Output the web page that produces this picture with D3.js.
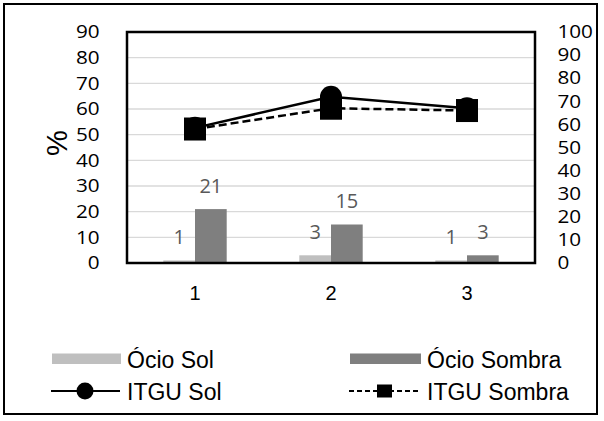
<!DOCTYPE html>
<html>
<head>
<meta charset="utf-8">
<script src="https://cdn.jsdelivr.net/npm/d3@7"></script>
<style>
  html, body { margin: 0; padding: 0; background: #fff; }
  svg { display: block; }
</style>
</head>
<body>
<svg id="chart" width="604" height="421"></svg>
<script>
// Categories and series
const categories = ["1", "2", "3"];
const ocioSol = [1, 3, 1];
const ocioSombra = [21, 15, 3];
const itguSol = [58.5, 72, 67];
const itguSombra = [58, 67, 66];
const leftTicks = [0, 10, 20, 30, 40, 50, 60, 70, 80, 90];
const rightTicks = [0, 10, 20, 30, 40, 50, 60, 70, 80, 90, 100];

const svg = d3.select("#chart");
const plot = { left: 127, right: 535, top: 32, bottom: 263 };

const numFont = "'Open Sans', Lato, sans-serif";
const arial = "'Liberation Sans', Arial, sans-serif";

// outer frame
svg.append("rect")
  .attr("x", 4).attr("y", 4).attr("width", 593).attr("height", 410)
  .attr("fill", "#fff").attr("stroke", "#000").attr("stroke-width", 2);

const x = d3.scaleBand().domain(categories).range([plot.left, plot.right]).padding(0);
const barW = 31.7;
const x1 = d3.scaleBand().domain(["sol", "sombra"])
  .range([x.bandwidth() / 2 - barW, x.bandwidth() / 2 + barW]).padding(0);
const yL = d3.scaleLinear().domain([0, 90]).range([plot.bottom, plot.top]);
const yR = d3.scaleLinear().domain([0, 100]).range([plot.bottom, plot.top]);

// gridlines
svg.append("g")
  .selectAll("line")
  .data(leftTicks.filter(d => d > 0 && d < 90))
  .join("line")
  .attr("x1", plot.left).attr("x2", plot.right)
  .attr("y1", d => yL(d)).attr("y2", d => yL(d))
  .attr("stroke", "#d9d9d9").attr("stroke-width", 1.3);

// left axis labels
const axL = svg.append("g").attr("transform", `translate(${plot.left},0)`)
  .call(d3.axisLeft(yL).tickValues(leftTicks).tickSize(0).tickPadding(21));
axL.select(".domain").remove();
axL.selectAll("text")
  .attr("font-family", numFont).attr("font-size", 18).attr("fill", "#000")
  .attr("transform", function () {
    const tx = +this.getAttribute("x") || 0;
    return `translate(${tx * 0.15},0) scale(1.15,1)`;
  });

// right axis labels
const axR = svg.append("g").attr("transform", `translate(${plot.right},0)`)
  .call(d3.axisRight(yR).tickValues(rightTicks).tickSize(0).tickPadding(22));
axR.select(".domain").remove();
axR.selectAll("text")
  .attr("font-family", numFont).attr("font-size", 18).attr("fill", "#000")
  .attr("transform", function () {
    const tx = +this.getAttribute("x") || 0;
    return `translate(${tx * -0.15 / 1.15},0) scale(1.15,1)`;
  });

// bottom category labels
const axB = svg.append("g").attr("transform", `translate(0,${plot.bottom})`)
  .call(d3.axisBottom(x).tickSize(0).tickPadding(23));
axB.select(".domain").remove();
axB.selectAll("text").attr("font-family", arial).attr("font-size", 20).attr("fill", "#000");

// y title
svg.append("text")
  .attr("transform", "translate(56.5,143) rotate(-90)")
  .attr("text-anchor", "middle").attr("dominant-baseline", "central")
  .attr("font-family", arial).attr("font-size", 29).text("%");

// bars
const barData = categories.map((c, i) => [
  { cat: c, key: "sol", v: ocioSol[i], color: "#bfbfbf" },
  { cat: c, key: "sombra", v: ocioSombra[i], color: "#7f7f7f" }
]).flat();

svg.append("g").selectAll("rect")
  .data(barData).join("rect")
  .attr("x", d => x(d.cat) + x1(d.key))
  .attr("width", x1.bandwidth())
  .attr("y", d => yL(d.v))
  .attr("height", d => yL(0) - yL(d.v))
  .attr("fill", d => d.color);

svg.append("g").selectAll("text")
  .data(barData).join("text")
  .attr("x", d => x(d.cat) + x1(d.key) + x1.bandwidth() / 2)
  .attr("y", d => yL(d.v) - 24)
  .attr("text-anchor", "middle").attr("dominant-baseline", "central")
  .attr("font-family", numFont).attr("font-size", 20).attr("fill", "#595959")
  .text(d => d.v);

// plot frame
svg.append("rect")
  .attr("x", plot.left).attr("y", plot.top)
  .attr("width", plot.right - plot.left).attr("height", plot.bottom - plot.top)
  .attr("fill", "none").attr("stroke", "#000").attr("stroke-width", 2.5);

// lines on the right axis
const cx = c => x(c) + x.bandwidth() / 2;
const line = d3.line().x(d => cx(d[0])).y(d => yR(d[1]));
const solPts = categories.map((c, i) => [c, itguSol[i]]);
const sombraPts = categories.map((c, i) => [c, itguSombra[i]]);

svg.append("path").datum(solPts).attr("d", line)
  .attr("fill", "none").attr("stroke", "#000").attr("stroke-width", 2.5);
svg.append("path").datum(sombraPts).attr("d", line)
  .attr("fill", "none").attr("stroke", "#000").attr("stroke-width", 2.5)
  .attr("stroke-dasharray", "8,4");

svg.append("g").selectAll("circle").data(solPts).join("circle")
  .attr("cx", d => cx(d[0])).attr("cy", d => yR(d[1])).attr("r", 11).attr("fill", "#000");
svg.append("g").selectAll("rect").data(sombraPts).join("rect")
  .attr("x", d => cx(d[0]) - 11).attr("y", d => yR(d[1]) - 11.5)
  .attr("width", 22).attr("height", 23).attr("fill", "#000");

// legend
const lg = svg.append("g");
lg.append("rect").attr("x", 52).attr("y", 353.5).attr("width", 69).attr("height", 10.5).attr("fill", "#bfbfbf");
lg.append("rect").attr("x", 350).attr("y", 353.5).attr("width", 71).attr("height", 10.5).attr("fill", "#7f7f7f");
lg.append("line").attr("x1", 51).attr("x2", 120).attr("y1", 391).attr("y2", 391)
  .attr("stroke", "#000").attr("stroke-width", 2);
lg.append("circle").attr("cx", 85).attr("cy", 391).attr("r", 8.5).attr("fill", "#000");
lg.append("line").attr("x1", 349).attr("x2", 420).attr("y1", 391).attr("y2", 391)
  .attr("stroke", "#000").attr("stroke-width", 2).attr("stroke-dasharray", "5,3");
lg.append("rect").attr("x", 377).attr("y", 384.5).attr("width", 15).attr("height", 13).attr("fill", "#000");

const legendText = [
  { t: "Ócio Sol", x: 127, y: 360 },
  { t: "Ócio Sombra", x: 427, y: 360 },
  { t: "ITGU Sol", x: 127, y: 391.5 },
  { t: "ITGU Sombra", x: 427, y: 391.5 }
];
lg.selectAll("text.lt").data(legendText).join("text")
  .attr("class", "lt")
  .attr("x", d => d.x).attr("y", d => d.y)
  .attr("dominant-baseline", "central")
  .attr("font-family", arial).attr("font-size", 23).attr("fill", "#000")
  .text(d => d.t);
</script>
</body>
</html>
